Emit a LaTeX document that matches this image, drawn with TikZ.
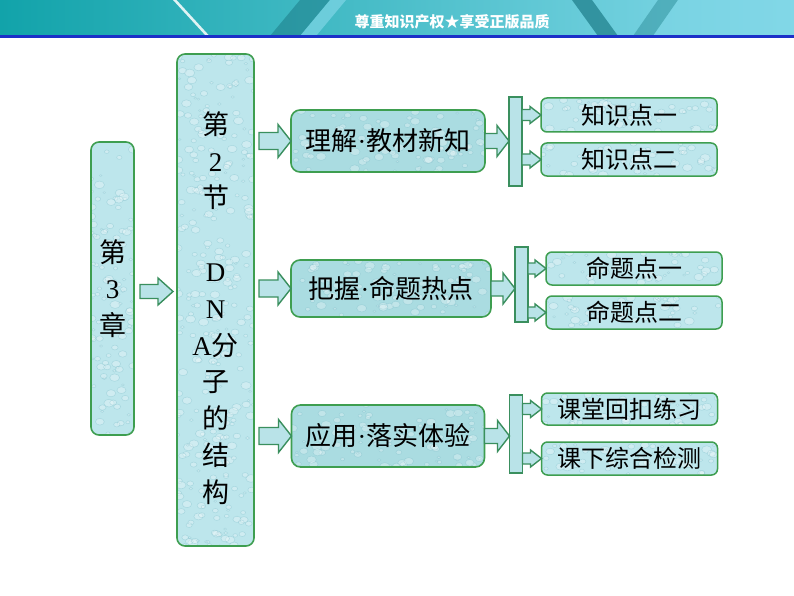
\documentclass[tikz,border=0pt]{standalone}
\usepackage{fontspec}
\newfontfamily\cjk{Noto Sans CJK SC}
\newfontfamily\lat{Liberation Serif}
\usetikzlibrary{calc}
\definecolor{boxfill}{HTML}{BDE6EC}
\definecolor{boxline}{HTML}{3E9E50}
\definecolor{arrfill}{HTML}{B9E3E8}
\definecolor{arrline}{HTML}{3A8F5E}
\definecolor{dropc}{HTML}{6FB6C4}
\definecolor{banA}{HTML}{12A3AA}
\definecolor{banB}{HTML}{3DB6C8}
\definecolor{banC}{HTML}{86DAEA}
\definecolor{banDark}{HTML}{1C7C88}
\definecolor{banLight}{HTML}{7FD6E6}
\definecolor{blueline}{HTML}{1C30C8}
\newcommand\droplets[1]{%
  \foreach \i in {1,...,#1}{%
    \pgfmathsetmacro\rx{rnd}\pgfmathsetmacro\ry{rnd}\pgfmathsetmacro\rr{1.2+4*rnd}%
    \draw[dropstyle] let \p1=(path picture bounding box.south west),
      \p2=(path picture bounding box.north east) in
      ({\x1+\rx*(\x2-\x1)},{\y1+\ry*(\y2-\y1)}) ellipse ({\rr pt} and {0.75*\rr pt});
  }}
\newcommand\barrow[5]{%
  \draw[arrstyle] let \p1=(#1), \p2=(#2) in
    (\x1,{\y1+#3pt}) -- ({\x2-#5pt},{\y1+#3pt}) -- ({\x2-#5pt},{\y1+#4pt}) -- (\x2,\y1)
    -- ({\x2-#5pt},{\y1-#4pt}) -- ({\x2-#5pt},{\y1-#3pt}) -- (\x1,{\y1-#3pt}) -- cycle;}
\newcommand\mdot{{\lat\textperiodcentered}}
\begin{document}
\begin{tikzpicture}[x=1pt,y=-1pt,
  dropstyle/.style={draw=dropc, draw opacity=0.35, fill=white, fill opacity=0.28, line width=0.5pt},
  tallbox/.style={draw=boxline, line width=1.6pt, fill=boxfill, rounded corners=8pt,
    inner sep=0pt, outer sep=0pt, align=center, font=\cjk\fontsize{27}{36.8}\selectfont,
    path picture={\droplets{#1}}},
  midbox/.style={draw=boxline, line width=1.6pt, fill=boxfill!90!teal, rounded corners=9pt,
    inner sep=0pt, outer sep=0pt, font=\cjk\fontsize{26}{30}\selectfont,
    path picture={\droplets{90}}},
  smallbox/.style={draw=boxline, line width=1.5pt, fill=boxfill, rounded corners=6pt,
    inner sep=0pt, outer sep=0pt, minimum width=176, minimum height=33,
    font=\cjk\fontsize{24}{28}\selectfont, path picture={\droplets{45}}},
  barbox/.style={draw=arrline, line width=1.5pt, fill=arrfill, inner sep=0pt, outer sep=0pt,
    minimum width=13},
  arrstyle/.style={draw=arrline, line width=1.4pt, fill=arrfill, line join=miter}
]
\pgfmathsetseed{11}
\useasboundingbox (0,0) rectangle (794,596);
\fill[white] (0,0) rectangle (794,596);
% banner
\shade[left color=banA, middle color=banB, right color=banC] (0,0) rectangle (794,36);
\fill[white, opacity=0.85] (173,0) -- (176.5,0) -- (209.5,36) -- (206,36) -- cycle;
\fill[banDark, opacity=0.55] (300,0) -- (330,0) -- (300,36) -- (270,36) -- cycle;
\fill[banLight, opacity=0.7] (330,0) -- (346,0) -- (316,36) -- (300,36) -- cycle;
\fill[banDark, opacity=0.7] (572,0) -- (592,0) -- (618,36) -- (598,36) -- cycle;
\fill[banDark, opacity=0.4] (658,0) -- (678,0) -- (653,36) -- (633,36) -- cycle;
\fill[banLight, opacity=0.5] (678,0) -- (794,0) -- (794,36) -- (653,36) -- cycle;
\fill[blueline] (0,35.5) rectangle (794,38.5);
\node[text=white, font=\cjk\bfseries\fontsize{15}{16}\selectfont] (banner) at (452,22) {尊重知识产权★享受正版品质};
% tall boxes
\node[tallbox=110, minimum width=43, minimum height=293] (ch) at (112.5,288.5) {};
\node[font=\cjk\fontsize{27}{36.8}\selectfont, align=center, inner sep=0pt] (cht) at (ch.center)
  {第\\{\lat 3}\\章};
\node[tallbox=320, minimum width=77, minimum height=492] (sec) at (215.5,300) {};
\node[font=\cjk\fontsize{27}{36.8}\selectfont, align=center, inner sep=0pt] (sect) at ($(sec.center)+(0,8)$)
  {第\\{\lat 2}\\节\\[36.8pt]{\lat D}\\{\lat N}\\{\lat A}分\\子\\的\\结\\构};
% middle boxes
\node[midbox, minimum width=194, minimum height=62] (m1) at (388,141) {理解\mdot 教材新知};
\node[midbox, minimum width=200, minimum height=57] (m2) at (391,288.5) {把握\mdot 命题热点};
\node[midbox, minimum width=193, minimum height=62] (m3) at (388,436) {应用\mdot 落实体验};
% bars
\node[barbox, minimum height=89] (b1) at (515.5,141.5) {};
\node[barbox, minimum height=75] (b2) at (521.5,284.5) {};
\node[barbox, minimum height=78] (b3) at (516,434) {};
% small boxes
\node[smallbox, minimum height=34] (s1) at (629,115) {知识点一};
\node[smallbox] (s2) at (629,159.5) {知识点二};
\node[smallbox] (s3) at (634,268.5) {命题点一};
\node[smallbox] (s4) at (634,312.5) {命题点二};
\node[smallbox, minimum height=32] (s5) at (629.5,409) {课堂回扣练习};
\node[smallbox] (s6) at (629.5,458.5) {课下综合检测};
% arrows
\barrow{$(ch.east)+(6,3)$}{$(sec.west)+(-4,0)$}{7}{13.5}{15}
\barrow{$(sec.east |- m1.west)+(5,0)$}{m1.west}{8.5}{16.5}{13}
\barrow{$(sec.east |- m2.west)+(5,0)$}{m2.west}{8.5}{16.5}{13}
\barrow{$(sec.east |- m3.west)+(5,0)$}{m3.west}{8.5}{16.5}{13}
\barrow{m1.east}{b1.west}{7.5}{15.5}{12}
\barrow{m2.east}{b2.west}{7.5}{15.5}{12}
\barrow{m3.east}{b3.west}{7.5}{15.5}{12}
\barrow{b1.east |- s1.west}{s1.west}{5.5}{8.5}{11}
\barrow{b1.east |- s2.west}{s2.west}{5.5}{8.5}{11}
\barrow{b2.east |- s3.west}{s3.west}{5.5}{8.5}{11}
\barrow{b2.east |- s4.west}{s4.west}{5.5}{8.5}{11}
\barrow{b3.east |- s5.west}{s5.west}{5.5}{8.5}{11}
\barrow{b3.east |- s6.west}{s6.west}{5.5}{8.5}{11}
\end{tikzpicture}
\end{document}
